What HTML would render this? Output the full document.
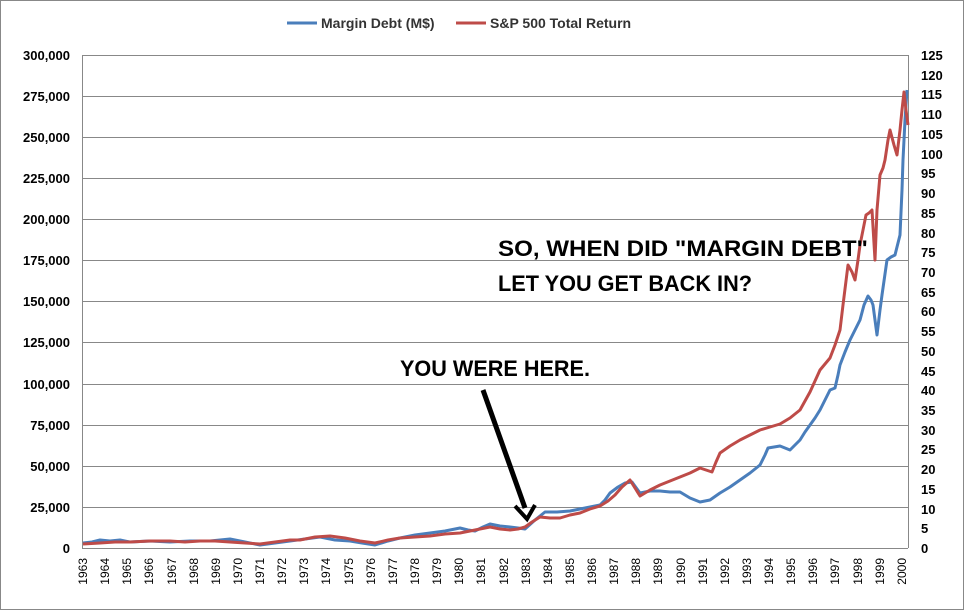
<!DOCTYPE html>
<html><head><style>
body{margin:0;background:#fff;}
svg text{font-family:"Liberation Sans",sans-serif;}
</style></head><body>
<svg width="964" height="610" xmlns="http://www.w3.org/2000/svg">
<rect x="0.5" y="0.5" width="963" height="609" fill="#fff" stroke="#888"/>
<g stroke="#888" stroke-width="1">
<line x1="82" y1="55.5" x2="908" y2="55.5"/>
<line x1="82" y1="96.5" x2="908" y2="96.5"/>
<line x1="82" y1="137.5" x2="908" y2="137.5"/>
<line x1="82" y1="178.5" x2="908" y2="178.5"/>
<line x1="82" y1="219.5" x2="908" y2="219.5"/>
<line x1="82" y1="260.5" x2="908" y2="260.5"/>
<line x1="82" y1="301.5" x2="908" y2="301.5"/>
<line x1="82" y1="342.5" x2="908" y2="342.5"/>
<line x1="82" y1="384.5" x2="908" y2="384.5"/>
<line x1="82" y1="425.5" x2="908" y2="425.5"/>
<line x1="82" y1="466.5" x2="908" y2="466.5"/>
<line x1="82" y1="507.5" x2="908" y2="507.5"/>
<line x1="82" y1="548.5" x2="908" y2="548.5"/>
<line x1="82.5" y1="55" x2="82.5" y2="548"/>
<line x1="908.5" y1="55" x2="908.5" y2="548"/>
</g>
<g font-size="13" font-weight="bold" text-anchor="end" fill="#000">
<text x="70" y="60">300,000</text><text x="70" y="101">275,000</text><text x="70" y="142">250,000</text><text x="70" y="183">225,000</text><text x="70" y="224">200,000</text><text x="70" y="265">175,000</text><text x="70" y="306">150,000</text><text x="70" y="347">125,000</text><text x="70" y="389">100,000</text><text x="70" y="430">75,000</text><text x="70" y="471">50,000</text><text x="70" y="512">25,000</text><text x="70" y="553">0</text>
</g>
<g font-size="13" font-weight="bold" fill="#000">
<text x="921" y="553">0</text><text x="921" y="533">5</text><text x="921" y="514">10</text><text x="921" y="494">15</text><text x="921" y="474">20</text><text x="921" y="454">25</text><text x="921" y="435">30</text><text x="921" y="415">35</text><text x="921" y="395">40</text><text x="921" y="376">45</text><text x="921" y="356">50</text><text x="921" y="336">55</text><text x="921" y="316">60</text><text x="921" y="297">65</text><text x="921" y="277">70</text><text x="921" y="257">75</text><text x="921" y="238">80</text><text x="921" y="218">85</text><text x="921" y="198">90</text><text x="921" y="178">95</text><text x="921" y="159">100</text><text x="921" y="139">105</text><text x="921" y="119">110</text><text x="921" y="99">115</text><text x="921" y="80">120</text><text x="921" y="60">125</text>
</g>
<g font-size="12" fill="#000" text-anchor="end">
<text transform="translate(87,558) rotate(-90)">1963</text>
<text transform="translate(109,558) rotate(-90)">1964</text>
<text transform="translate(131,558) rotate(-90)">1965</text>
<text transform="translate(153,558) rotate(-90)">1966</text>
<text transform="translate(176,558) rotate(-90)">1967</text>
<text transform="translate(198,558) rotate(-90)">1968</text>
<text transform="translate(220,558) rotate(-90)">1969</text>
<text transform="translate(242,558) rotate(-90)">1970</text>
<text transform="translate(264,558) rotate(-90)">1971</text>
<text transform="translate(286,558) rotate(-90)">1972</text>
<text transform="translate(308,558) rotate(-90)">1973</text>
<text transform="translate(330,558) rotate(-90)">1974</text>
<text transform="translate(353,558) rotate(-90)">1975</text>
<text transform="translate(375,558) rotate(-90)">1976</text>
<text transform="translate(397,558) rotate(-90)">1977</text>
<text transform="translate(419,558) rotate(-90)">1978</text>
<text transform="translate(441,558) rotate(-90)">1979</text>
<text transform="translate(463,558) rotate(-90)">1980</text>
<text transform="translate(485,558) rotate(-90)">1981</text>
<text transform="translate(508,558) rotate(-90)">1982</text>
<text transform="translate(530,558) rotate(-90)">1983</text>
<text transform="translate(552,558) rotate(-90)">1984</text>
<text transform="translate(574,558) rotate(-90)">1985</text>
<text transform="translate(596,558) rotate(-90)">1986</text>
<text transform="translate(618,558) rotate(-90)">1987</text>
<text transform="translate(640,558) rotate(-90)">1988</text>
<text transform="translate(662,558) rotate(-90)">1989</text>
<text transform="translate(685,558) rotate(-90)">1990</text>
<text transform="translate(707,558) rotate(-90)">1991</text>
<text transform="translate(729,558) rotate(-90)">1992</text>
<text transform="translate(751,558) rotate(-90)">1993</text>
<text transform="translate(773,558) rotate(-90)">1994</text>
<text transform="translate(795,558) rotate(-90)">1995</text>
<text transform="translate(817,558) rotate(-90)">1996</text>
<text transform="translate(839,558) rotate(-90)">1997</text>
<text transform="translate(862,558) rotate(-90)">1998</text>
<text transform="translate(884,558) rotate(-90)">1999</text>
<text transform="translate(906,558) rotate(-90)">2000</text>
</g>
<polyline fill="none" stroke="#4a7ebb" stroke-width="3" stroke-linejoin="round" points="83,543 92,542 100,540 110,541 120,540 130,542 150,541 170,542 190,541 210,541 230,539 245,542 260,545 275,543 290,541 305,539 320,537 335,540 350,541 362,543 375,545 388,541 400,538 415,535 430,533 445,531 460,528 468,530 475,531 483,527 490,524 500,526 510,527 518,528 525,529 535,520 545,512 557,512 570,511 580,509 590,507 600,505 605,500 610,493 618,487 625,483 632,482 640,493 650,491 660,491 670,492 680,492 690,498 700,502 710,500 720,493 730,487 740,480 750,473 760,465 765,455 768,448 774,447 780,446 785,448 790,450 795,445 800,440 805,432 810,425 815,418 820,410 825,400 830,390 835,388 838,375 840,365 845,352 850,340 855,330 860,320 864,305 868,296 871,300 873,305 877,335 880,310 882,295 887,260 891,257 895,255 900,235 902,190 903,160 905,120 907,90"/>
<polyline fill="none" stroke="#be4b48" stroke-width="3" stroke-linejoin="round" points="83,544 100,543 115,542 130,542 150,541 170,541 185,542 200,541 215,541 230,542 245,543 260,544 275,542 290,540 300,540 315,537 330,536 345,538 360,541 375,543 388,540 400,538 415,537 430,536 445,534 460,533 475,530 490,527 500,529 510,530 518,529 525,527 532,522 540,517 550,518 560,518 570,515 580,513 590,509 600,506 608,501 615,495 622,487 630,480 635,488 640,496 650,490 660,485 670,481 680,477 690,473 700,468 706,470 712,472 716,462 720,453 730,446 740,440 750,435 760,430 770,427 780,424 785,421 790,418 795,414 800,410 805,401 810,392 815,381 820,370 825,364 830,358 835,345 840,330 843,305 848,265 852,272 855,280 858,260 860,245 863,230 866,215 869,213 872,210 875,260 877,210 880,175 883,168 885,160 888,140 890,130 894,145 897,155 900,130 902,110 904,92 906,110 908,125"/>
<line x1="287" y1="23" x2="317" y2="23" stroke="#4a7ebb" stroke-width="3"/>
<text x="321" y="28" font-size="14" font-weight="bold" fill="#333">Margin Debt (M$)</text>
<line x1="456" y1="23" x2="486" y2="23" stroke="#be4b48" stroke-width="3"/>
<text x="490" y="28" font-size="14" font-weight="bold" fill="#333">S&amp;P 500 Total Return</text>
<g font-size="22" font-weight="bold" fill="#000">
<text x="498" y="256" textLength="370" lengthAdjust="spacingAndGlyphs">SO, WHEN DID "MARGIN DEBT"</text>
<text x="498" y="291" textLength="254" lengthAdjust="spacingAndGlyphs">LET YOU GET BACK IN?</text>
<text x="400" y="376" textLength="190" lengthAdjust="spacingAndGlyphs">YOU WERE HERE.</text>
</g>
<path d="M483,390 L525,508" stroke="#000" stroke-width="5" fill="none"/>
<path d="M515,506 L527,519 L535,505" stroke="#000" stroke-width="4" fill="none"/>
</svg>
</body></html>
